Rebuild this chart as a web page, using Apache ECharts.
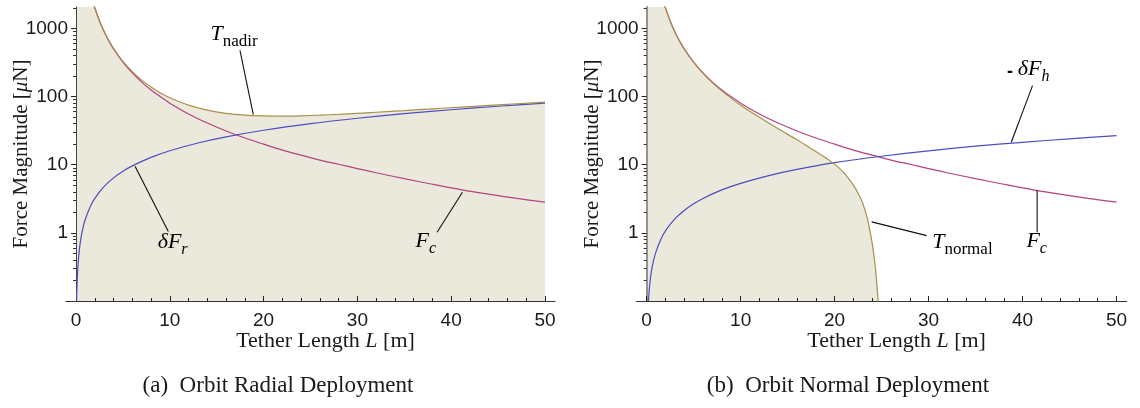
<!doctype html>
<html>
<head>
<meta charset="utf-8">
<title>Tether force magnitudes</title>
<script src="https://cdn.jsdelivr.net/npm/echarts@6.0.0/dist/echarts.min.js"></script>
<style>
  html, body { margin: 0; padding: 0; background: #fff; }
  #chart { width: 1140px; height: 408px; }
</style>
</head>
<body>
<div id="chart"></div>
<script>
// tick positions
var xMajor = [0, 10, 20, 30, 40, 50];
var xMinor = [2, 4, 6, 8, 12, 14, 16, 18, 22, 24, 26, 28, 32, 34, 36, 38, 42, 44, 46, 48];
var yMajor = [1, 10, 100, 1000];
var yMinor = [0.2, 0.3, 0.4, 0.5, 0.6, 0.7, 0.8, 0.9, 2, 3, 4, 5, 6, 7, 8, 9,
              20, 30, 40, 50, 60, 70, 80, 90, 200, 300, 400, 500, 600, 700, 800, 900, 2000];

// F_c (same curve in both panels), tether length [m] -> force [uN]
var fcLength = [1.8, 2, 2.5, 3, 3.5, 4, 5, 6, 7, 8, 9, 10, 12, 14, 16, 18, 20, 22, 24, 26, 28, 30, 32, 35, 38, 41, 44, 47, 50];
var fcForce  = [2450, 2000, 1280, 890, 650, 500, 320, 222, 163, 125, 99, 80, 55.5, 40.8, 31.2, 24.6, 20, 16.4, 13.8, 11.7, 10.14, 8.78, 7.62, 6.24, 5.16, 4.31, 3.69, 3.2, 2.82];

// (a) radial: delta F_r
var frLength = [0.06, 0.1, 0.2, 0.3, 0.5, 0.75, 1, 1.5, 2, 3, 4, 5, 6, 8, 10, 13, 16, 20, 25, 30, 35, 40, 45, 50];
var frForce  = [0.1, 0.16, 0.32, 0.48, 0.8, 1.2, 1.6, 2.4, 3.2, 4.8, 6.4, 8, 9.6, 12.8, 16, 20.8, 25.6, 32, 40, 48, 56, 64, 72, 80];

// (a) radial: T_nadir
var tnLength = [0, 1, 1.5, 1.8, 2, 2.5, 3, 4, 5, 6, 7, 8, 9, 10, 12, 14, 16, 18, 20, 22, 24, 26, 28, 30, 32, 35, 38, 41, 44, 47, 50];
var tnForce  = [100000, 8000, 3560, 2453, 2003, 1284, 895, 506, 328, 232, 174, 138, 113, 96, 74.7, 63.2, 56.8, 53.4, 52, 51.6, 52.2, 53.3, 54.9, 56.8, 58.8, 62.2, 66, 69.9, 74.1, 78.4, 82.8];

// (b) normal: -delta F_h
var fhLength = [0.19, 0.3, 0.5, 0.75, 1, 1.5, 2, 3, 4, 5, 6, 8, 10, 13, 16, 20, 25, 30, 35, 40, 45, 50];
var fhForce  = [0.1, 0.16, 0.27, 0.4, 0.53, 0.8, 1.07, 1.6, 2.13, 2.67, 3.2, 4.27, 5.33, 6.93, 8.53, 10.7, 13.3, 16, 18.7, 21.3, 24, 26.7];

// (b) normal: T_normal
var tmLength = [0, 1, 1.5, 1.8, 2, 2.5, 3, 4, 5, 6, 7, 8, 9, 10, 12, 14, 16, 18, 19, 20, 21, 22, 22.5, 23, 23.5, 23.8, 24, 24.2, 24.4, 24.55, 24.65];
var tmForce  = [100000, 8000, 3560, 2450, 1999, 1279, 888, 498, 317, 219, 159, 121, 94, 74.7, 49.5, 33.6, 23.2, 15.6, 12.8, 10.2, 7.6, 5.0, 3.8, 2.7, 1.6, 1.0, 0.7, 0.45, 0.25, 0.14, 0.09];

var OLIVE = '#a8914c', MAGENTA = '#b4437f', BLUE = '#4d4dc2', FILL = '#ebe9dc', INK = '#1a1a1a';
var SERIF = 'Liberation Serif', SANS = 'Liberation Sans';

function pairs(xs, ys) {
    return xs.map(function (x, i) { return [x, ys[i]]; });
}

function xAxes(grid, lineColor) {
    return [{
        type: 'value', gridIndex: grid, position: 'bottom', min: -1.07, max: 51.07,
        axisLine: { show: true, onZero: false, lineStyle: { color: lineColor, width: 1.2 } },
        axisTick: { show: true, inside: true, length: 5, customValues: xMajor, lineStyle: { color: '#222' } },
        axisLabel: { customValues: xMajor, color: INK, fontFamily: SANS, fontSize: 19, margin: 10 },
        splitLine: { show: false },
        name: 'Tether Length {i|L} [m]', nameLocation: 'middle', nameGap: 29, nameMoveOverlap: false,
        nameTextStyle: { color: INK, fontFamily: SERIF, fontSize: 22, padding: [0, 0, 0, 30],
            rich: { i: { fontFamily: SERIF, fontSize: 22, fontStyle: 'italic', color: INK } } }
    }, {
        type: 'value', gridIndex: grid, position: 'bottom', min: -1.07, max: 51.07,
        axisLine: { show: false, onZero: false },
        axisTick: { show: true, inside: true, length: 3, customValues: xMinor, lineStyle: { color: '#222' } },
        axisLabel: { show: false },
        splitLine: { show: false }
    }];
}

function yAxes(grid, xIndex, lineColor, lineWidth) {
    return [{
        type: 'log', gridIndex: grid, position: 'left', min: 0.1, max: 2060,
        axisLine: { show: true, onZero: true, onZeroAxisIndex: xIndex, lineStyle: { color: lineColor, width: lineWidth } },
        axisTick: { show: true, length: 5, customValues: yMajor, lineStyle: { color: '#222' } },
        axisLabel: { customValues: yMajor, color: INK, fontFamily: SANS, fontSize: 19, margin: -2,
            formatter: function (v) { return String(Math.round(v)); } },
        splitLine: { show: false },
        name: 'Force Magnitude [{i|μ}N]', nameLocation: 'middle', nameRotate: 90, nameGap: 34, nameMoveOverlap: false,
        nameTextStyle: { color: INK, fontFamily: SERIF, fontSize: 21,
            rich: { i: { fontFamily: SERIF, fontSize: 21, fontStyle: 'italic', color: INK } } }
    }, {
        type: 'log', gridIndex: grid, position: 'left', min: 0.1, max: 2060,
        axisLine: { show: false, onZero: true, onZeroAxisIndex: xIndex },
        axisTick: { show: true, length: 3, customValues: yMinor, lineStyle: { color: '#333' } },
        axisLabel: { show: false },
        splitLine: { show: false }
    }];
}

// the shaded region sits below the axes so the inside ticks stay visible
function fillSeries(x, y, data) {
    return { type: 'line', xAxisIndex: x, yAxisIndex: y, data: data, showSymbol: false, smooth: 0.3,
        lineStyle: { width: 0, opacity: 0 }, areaStyle: { color: FILL, opacity: 1, origin: 'start' }, z: -1 };
}
function curve(x, y, data, color) {
    return { type: 'line', xAxisIndex: x, yAxisIndex: y, data: data, showSymbol: false, smooth: 0.3,
        lineStyle: { color: color, width: 1.2 }, z: 3 };
}

var chart = echarts.init(document.getElementById('chart'), null, { renderer: 'canvas' });

var option = {
    animation: false,
    backgroundColor: '#fff',
    grid: [
        { left: 66, top: 7, width: 489, height: 294, outerBoundsMode: 'none' },
        { left: 636.6, top: 7, width: 490, height: 294, outerBoundsMode: 'none' }
    ],
    xAxis: xAxes(0, '#333').concat(xAxes(1, '#333')),
    yAxis: yAxes(0, 0, '#444', 1).concat(yAxes(1, 2, '#888', 1.8)),
    series: [
        fillSeries(0, 0, pairs(tnLength, tnForce)),
        curve(0, 0, pairs(fcLength, fcForce), MAGENTA),
        curve(0, 0, pairs(frLength, frForce), BLUE),
        curve(0, 0, pairs(tnLength, tnForce), OLIVE),

        fillSeries(2, 2, pairs(tmLength, tmForce)),
        curve(2, 2, pairs(fcLength, fcForce), MAGENTA),
        curve(2, 2, pairs(fhLength, fhForce), BLUE),
        curve(2, 2, pairs(tmLength, tmForce), OLIVE)
    ]
};
chart.setOption(option);

// curve labels and their pointer lines, placed in data space
var labelRich = {
    t: { fontFamily: SERIF, fontSize: 22, fontStyle: 'italic', color: INK, verticalAlign: 'bottom', padding: [0, 0, 4, 0] },
    s: { fontFamily: SERIF, fontSize: 17, color: INK, verticalAlign: 'bottom' },
    si: { fontFamily: SERIF, fontSize: 16, fontStyle: 'italic', color: INK, verticalAlign: 'bottom' },
    n: { fontFamily: SANS, fontSize: 18, fontWeight: 'bold', color: INK, verticalAlign: 'bottom', padding: [0, 0, 4, 0] }
};
var notes = [
    { axes: [0, 0], at: [16.85, 755], text: '{t|T}{s|nadir}' },
    { axes: [0, 0], at: [10.3, 0.67], text: '{t|δF}{si|r}' },
    { axes: [0, 0], at: [37.3, 0.70], text: '{t|F}{si|c}' },
    { axes: [2, 2], at: [40.6, 232], text: '{n|- }{t|δF}{si|h}' },
    { axes: [2, 2], at: [33.6, 0.67], text: '{t|T}{s|normal}' },
    { axes: [2, 2], at: [41.5, 0.70], text: '{t|F}{si|c}' }
];
var pointers = [
    { axes: [0, 0], from: [17.48, 476], to: [18.9, 54.3] },
    { axes: [0, 0], from: [6.29, 9.47], to: [9.84, 1.05] },
    { axes: [0, 0], from: [41.2, 3.94], to: [38.5, 1.02] },
    { axes: [2, 2], from: [41.06, 144.6], to: [38.8, 21.3] },
    { axes: [2, 2], from: [23.94, 1.45], to: [29.8, 0.91] },
    { axes: [2, 2], from: [41.55, 4.2], to: [41.55, 1.02] }
];

function px(axes, pt) {
    return chart.convertToPixel({ xAxisIndex: axes[0], yAxisIndex: axes[1] }, pt);
}

var graphics = [];
notes.forEach(function (n) {
    var p = px(n.axes, n.at);
    graphics.push({ type: 'text', x: p[0], y: p[1], z: 10,
        style: { text: n.text, rich: labelRich, align: 'center', verticalAlign: 'middle' } });
});
pointers.forEach(function (l) {
    var a = px(l.axes, l.from), b = px(l.axes, l.to);
    graphics.push({ type: 'line', z: 10, shape: { x1: a[0], y1: a[1], x2: b[0], y2: b[1] },
        style: { stroke: '#111', lineWidth: 1.1 } });
});
graphics.push({ type: 'text', x: 278, y: 386, z: 10,
    style: { text: '(a)  Orbit Radial Deployment', fill: INK, font: '23px "Liberation Serif"', align: 'center', verticalAlign: 'middle' } });
graphics.push({ type: 'text', x: 848, y: 386, z: 10,
    style: { text: '(b)  Orbit Normal Deployment', fill: INK, font: '23px "Liberation Serif"', align: 'center', verticalAlign: 'middle' } });

chart.setOption({ graphic: graphics });
</script>
</body>
</html>
